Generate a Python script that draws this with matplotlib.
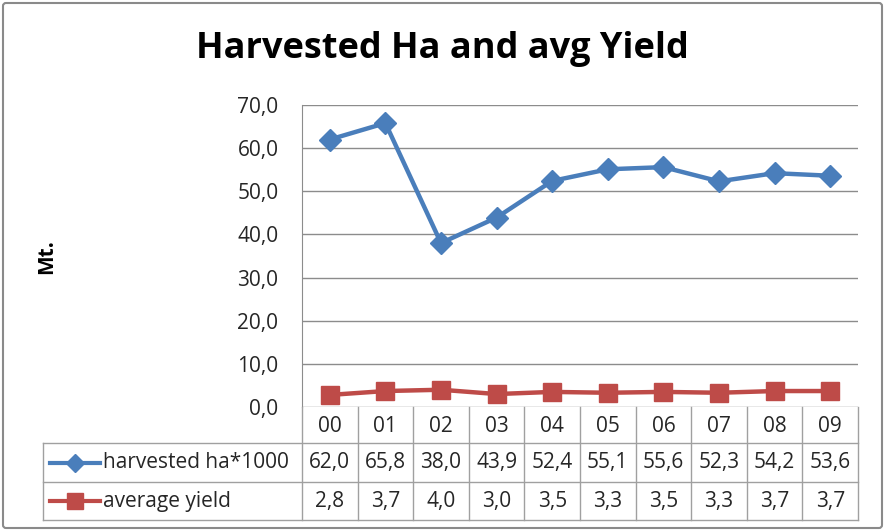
import numpy as np
import matplotlib.pyplot as plt
from matplotlib.patches import FancyBboxPatch
from matplotlib.lines import Line2D

plt.rcParams['font.family'] = ['Open Sans', 'DejaVu Sans']

years = ['00', '01', '02', '03', '04', '05', '06', '07', '08', '09']
harvested = [62.0, 65.8, 38.0, 43.9, 52.4, 55.1, 55.6, 52.3, 54.2, 53.6]
avg_yield = [2.8, 3.7, 4.0, 3.0, 3.5, 3.3, 3.5, 3.3, 3.7, 3.7]
series_names = ['harvested ha*1000', 'average yield']
yticks = [0, 10, 20, 30, 40, 50, 60, 70]

blue = '#4A7EBB'
red = '#BE4B48'
grid_c = '#8c8c8c'
txt_c = '#262626'
fs = 15

W, H = 885, 532
fig = plt.figure(figsize=(W / 100, H / 100), dpi=100)

# plot area in pixel terms
px_l, px_r, px_t, px_b = 302, 858, 105, 407
ax = fig.add_axes([px_l / W, 1 - px_b / H, (px_r - px_l) / W, (px_b - px_t) / H])
x = np.arange(len(years))
ax.plot(x, harvested, color=blue, lw=3.2, marker='D', ms=11, mec=blue, zorder=3, clip_on=False)
ax.plot(x, avg_yield, color=red, lw=3.2, marker='s', ms=13, mec=red, zorder=3, clip_on=False)
ax.set_xlim(-0.5, len(years) - 0.5)
ax.set_ylim(0, 70)
ax.set_yticks(yticks)
ax.set_yticklabels([('%.1f' % v).replace('.', ',') for v in yticks], fontsize=fs, color=txt_c)
ax.set_xticks([])
ax.tick_params(axis='y', length=0, pad=17)
for v in yticks:
    ax.axhline(v, color=grid_c, lw=1, zorder=1)
for s in ['top', 'right', 'bottom']:
    ax.spines[s].set_visible(False)
ax.spines['left'].set_color(grid_c)

# overlay in pixel coords for table, title, border
ov = fig.add_axes([0, 0, 1, 1], facecolor='none')
ov.set_xlim(0, W)
ov.set_ylim(H, 0)
ov.axis('off')

ov.add_patch(FancyBboxPatch((3, 3), W - 6, H - 7, boxstyle='round,pad=0,rounding_size=3',
                            fill=False, ec='#8a8a8a', lw=1.5))
ov.text(442, 49, 'Harvested Ha and avg Yield', fontsize=26, fontweight='bold',
        ha='center', va='center', color='black')
ov.text(47, 257, 'Mt.', fontsize=15, fontweight='bold', rotation=90,
        ha='center', va='center', color='black')

# data table
tab_l = 43
rows = [407, 443, 482, 520]
col_w = (px_r - px_l) / len(years)
cols = [px_l + i * col_w for i in range(len(years) + 1)]
lc = '#a0a0a0'
for c in cols:
    ov.plot([c, c], [rows[0], rows[3]], color=lc, lw=1)
ov.plot([tab_l, tab_l], [rows[1], rows[3]], color=lc, lw=1)
for r in rows[1:]:
    ov.plot([tab_l, px_r], [r, r], color=lc, lw=1)

for i, yr in enumerate(years):
    cx = (cols[i] + cols[i + 1]) / 2
    ov.text(cx, (rows[0] + rows[1]) / 2 + 1, yr, fontsize=fs, ha='center', va='center', color=txt_c)
    ov.text(cx, (rows[1] + rows[2]) / 2, ('%.1f' % harvested[i]).replace('.', ','),
            fontsize=fs, ha='center', va='center', color=txt_c)
    ov.text(cx, (rows[2] + rows[3]) / 2, ('%.1f' % avg_yield[i]).replace('.', ','),
            fontsize=fs, ha='center', va='center', color=txt_c)

# legend keys in table
for k, (name, col, mk, ms) in enumerate([(series_names[0], blue, 'D', 9), (series_names[1], red, 's', 12)]):
    cy = (rows[k + 1] + rows[k + 2]) / 2
    ov.add_line(Line2D([50, 100], [cy, cy], color=col, lw=3))
    ov.plot([75], [cy], marker=mk, ms=ms, color=col, mec=col)
    ov.text(103, cy, name, fontsize=fs, ha='left', va='center', color=txt_c)

fig.savefig('out.png', dpi=100)
